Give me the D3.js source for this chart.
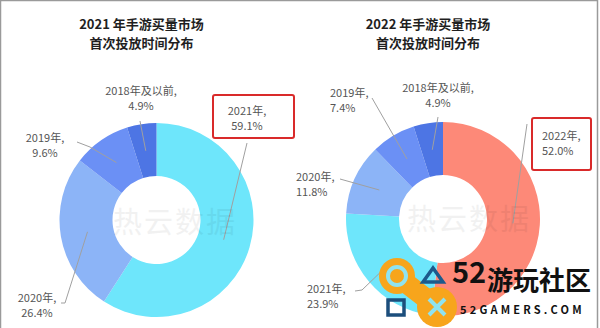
<!DOCTYPE html>
<html>
<head>
<meta charset="utf-8">
<script src="https://cdn.jsdelivr.net/npm/d3@7"></script>
<style>
  body { margin: 0; background: #fff; }
  text { font-family: "Noto Sans CJK SC", "Noto Sans", sans-serif; }
</style>
</head>
<body>
<script>
// data
var years2021 = ["2021年", "2020年", "2019年", "2018年及以前"];
var share2021 = [59.1, 26.4, 9.6, 4.9];
var years2022 = ["2022年", "2021年", "2020年", "2019年", "2018年及以前"];
var share2022 = [52.0, 23.9, 11.8, 7.4, 4.9];
var titles = ["2021 年手游买量市场", "2022 年手游买量市场"];
var subtitle = "首次投放时间分布";

var w = 600;
var h = 328;
var svg = d3.select("body").append("svg")
    .attr("width", w)
    .attr("height", h);

var color = d3.scaleOrdinal()
    .domain(["2022年", "2021年", "2020年", "2019年", "2018年及以前"])
    .range(["#fd8978", "#6ee6fb", "#8cb4f7", "#6b90f5", "#4d75e4"]);

// frame
svg.append("path")
    .attr("d", "M0.5,328 V0.5 H597.5 V328")
    .attr("fill", "none")
    .attr("stroke", "#9a9a9a")
    .attr("stroke-width", 1.5);

// label layout: [x, y of first line, anchor, leader points (to centroid)]
var layout2021 = [
  {x: 247, y: 115, a: "middle", pts: [[247, 143]], box: [213, 95, 81, 43]},
  {x: 37, y: 302, a: "middle", pts: [[61, 303], [65, 303]]},
  {x: 45, y: 142, a: "middle", pts: [[77, 142], [90, 147]]},
  {x: 141, y: 95, a: "middle", pts: [[140, 121]]}
];
var layout2022 = [
  {x: 542, y: 140, a: "start", pts: [[527, 124]], box: [532, 118, 59, 52]},
  {x: 307, y: 293, a: "start", pts: [[355, 291], [362, 290]]},
  {x: 296, y: 181, a: "start", pts: [[340, 179]]},
  {x: 330, y: 97, a: "start", pts: [[372, 98]]},
  {x: 438, y: 92, a: "middle", pts: [[438, 117]]}
];

function donut(cx, cy, title, names, values, layout) {
  var g = svg.append("g");

  g.append("text")
      .attr("x", cx - 15)
      .attr("y", 29)
      .attr("text-anchor", "middle")
      .attr("font-size", 13)
      .attr("font-weight", "bold")
      .attr("fill", "#1f1f1f")
      .text(title);
  g.append("text")
      .attr("x", cx - 15)
      .attr("y", 48)
      .attr("text-anchor", "middle")
      .attr("font-size", 13)
      .attr("font-weight", "bold")
      .attr("fill", "#1f1f1f")
      .text(subtitle);

  var pie = d3.pie().sort(null).value(function(d) { return d; });
  var arcs = pie(values);
  var arc = d3.arc().innerRadius(44).outerRadius(97);
  var mid = d3.arc().innerRadius(70).outerRadius(70);

  g.selectAll(".slice")
      .data(arcs)
      .enter().append("path")
      .attr("class", "slice")
      .attr("transform", "translate(" + cx + "," + cy + ")")
      .attr("d", arc)
      .attr("fill", function(d, i) { return color(names[i]); });

  arcs.forEach(function(d, i) {
    var L = layout[i];
    var c = mid.centroid(d);
    var pts = L.pts.concat([[cx + c[0], cy + c[1]]]);
    g.append("path")
        .attr("d", d3.line()(pts))
        .attr("fill", "none")
        .attr("stroke", "#a0a0a0")
        .attr("stroke-width", 1);

    if (L.box) {
      g.append("rect")
          .attr("x", L.box[0])
          .attr("y", L.box[1])
          .attr("width", L.box[2])
          .attr("height", L.box[3])
          .attr("rx", 2)
          .attr("fill", "#fff")
          .attr("stroke", "#d92a2a")
          .attr("stroke-width", 2);
    }
    g.append("text")
        .attr("x", L.x)
        .attr("y", L.y)
        .attr("text-anchor", L.a)
        .attr("font-size", 11)
        .attr("fill", "#555")
        .text(names[i] + ",");
    g.append("text")
        .attr("x", L.x)
        .attr("y", L.y + 15)
        .attr("text-anchor", L.a)
        .attr("font-size", 11)
        .attr("fill", "#555")
        .text(d3.format(".1f")(values[i]) + "%");
  });
}

donut(156.5, 220, titles[0], years2021, share2021, layout2021);
donut(443, 219, titles[1], years2022, share2022, layout2022);

// faint watermark
[[113, 233], [407, 230]].forEach(function(p) {
  svg.append("text")
      .attr("x", p[0])
      .attr("y", p[1])
      .attr("font-size", 29)
      .attr("letter-spacing", 2)
      .attr("fill", "#000")
      .attr("opacity", 0.05)
      .text("热云数据");
});

// 52 logo
var logo = svg.append("g");
logo.append("path")
    .attr("d", "M397,276 L437,307")
    .attr("stroke", "#f7a51c")
    .attr("stroke-width", 20);
logo.append("circle").attr("cx", 397).attr("cy", 276).attr("r", 18).attr("fill", "#f7a51c");
logo.append("circle").attr("cx", 437).attr("cy", 307).attr("r", 20).attr("fill", "#f7a51c");
logo.append("circle").attr("cx", 397).attr("cy", 276).attr("r", 9)
    .attr("fill", "#f7a51c").attr("stroke", "#8fe3f0").attr("stroke-width", 4);
logo.append("path")
    .attr("d", "M429,299 L445,315 M445,299 L429,315")
    .attr("stroke", "#8fe3f0")
    .attr("stroke-width", 4);
logo.append("path")
    .attr("d", "M433,268 L443,282 L423,282 Z")
    .attr("fill", "none")
    .attr("stroke", "#1c5a8c")
    .attr("stroke-width", 3.5);
logo.append("rect")
    .attr("x", 388).attr("y", 300).attr("width", 16).attr("height", 15)
    .attr("fill", "none")
    .attr("stroke", "#1c4e7c")
    .attr("stroke-width", 3.5);
logo.append("text")
    .attr("x", 452).attr("y", 283)
    .attr("font-size", 29)
    .attr("font-weight", "bold")
    .attr("font-family", "Liberation Sans Narrow, DejaVu Sans Condensed, sans-serif")
    .attr("fill", "#111")
    .text("52");
logo.append("text")
    .attr("x", 487).attr("y", 290)
    .attr("font-size", 26)
    .attr("font-weight", "bold")
    .attr("fill", "#111")
    .text("游玩社区");
logo.append("text")
    .attr("x", 460).attr("y", 314)
    .attr("font-size", 11)
    .attr("font-weight", "bold")
    .attr("letter-spacing", 3.2)
    .attr("fill", "#111")
    .text("52GAMERS.COM");
</script>
</body>
</html>
